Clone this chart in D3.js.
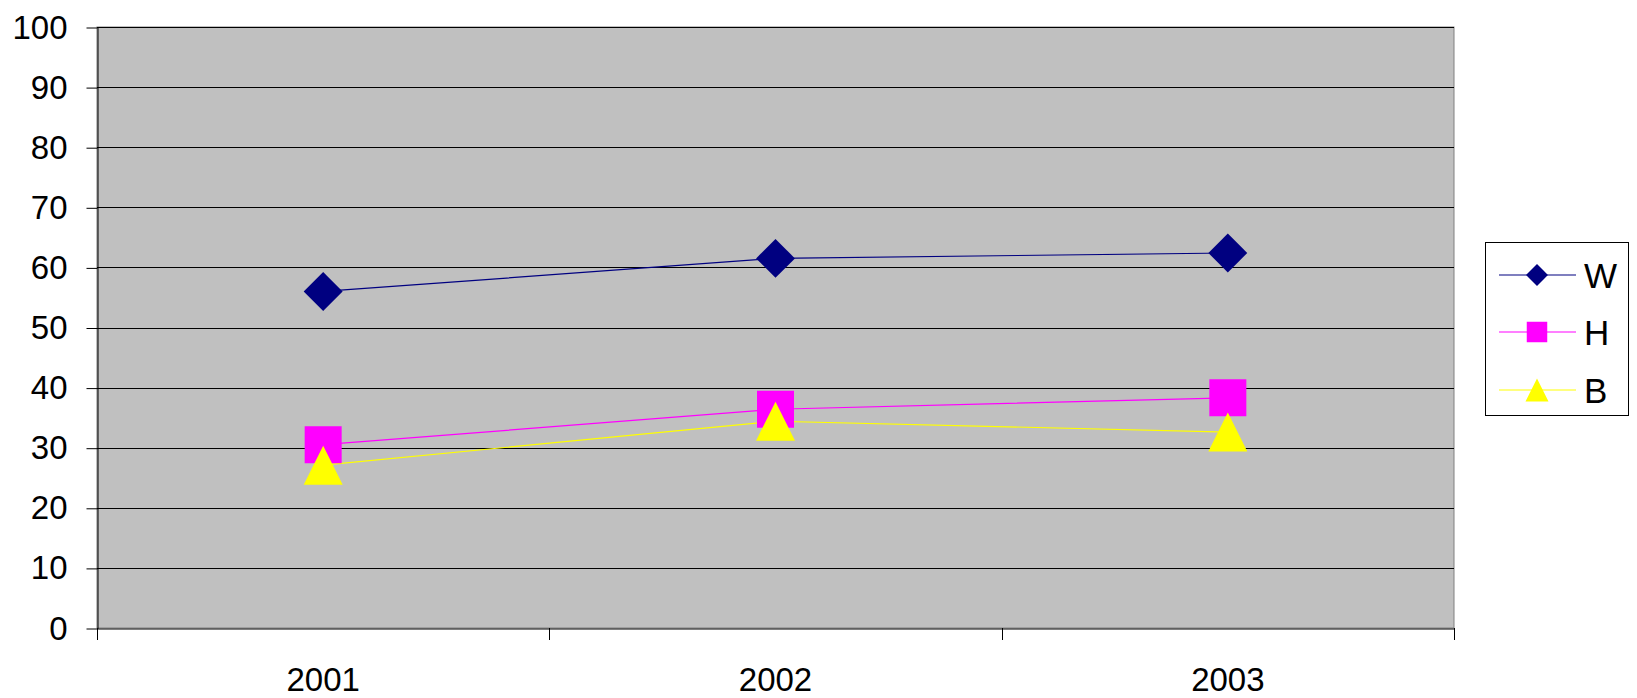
<!DOCTYPE html>
<html><head><meta charset="utf-8">
<script src="https://cdn.jsdelivr.net/npm/d3@7"></script>
<style>body{margin:0;background:#fff;} svg{display:block;font-family:Arial,"Liberation Sans",sans-serif;}</style>
</head><body>
<svg id="c" width="1637" height="698"></svg>
<script>
const categories = ["2001","2002","2003"];
const seriesNames = ["W","H","B"];
const valuesW = [56.0, 61.5, 62.4];
const valuesH = [30.5, 36.4, 38.3];
const valuesB = [27.1, 34.4, 32.6];
const yTicks = [0,10,20,30,40,50,60,70,80,90,100];
const colors = ["#000080","#FF00FF","#FFFF00"];
const symbols = [d3.symbolDiamond, d3.symbolSquare, d3.symbolTriangle];

const series = [
  {name: seriesNames[0], values: valuesW, color: colors[0], sym: "diamond"},
  {name: seriesNames[1], values: valuesH, color: colors[1], sym: "square"},
  {name: seriesNames[2], values: valuesB, color: colors[2], sym: "triangle"}
];

const svg = d3.select("#c");
const L = 97, R = 1454, T = 27, B = 628;
const x = d3.scaleBand().domain(categories).range([L, R]).padding(0);
const y = d3.scaleLinear().domain([0,100]).range([B, T]);

// plot background
svg.append("rect").attr("x", L).attr("y", T).attr("width", R-L).attr("height", B-T)
  .attr("fill", "#C0C0C0").attr("stroke", "#808080").attr("stroke-width", 1);

// gridlines
svg.append("g").selectAll("line").data(yTicks.filter(d => d > 0)).join("line")
  .attr("x1", L).attr("x2", R).attr("y1", d => Math.round(y(d)) + 0.5).attr("y2", d => Math.round(y(d)) + 0.5)
  .attr("stroke", "#000").attr("stroke-width", 1);

// y axis
const yAxis = d3.axisLeft(y).tickValues(yTicks).tickSize(11).tickPadding(19).tickSizeOuter(0);
const gy = svg.append("g").attr("transform", `translate(${L+0.5},0.5)`).call(yAxis);
gy.select(".domain").attr("stroke", "#000");
gy.selectAll(".tick line").attr("stroke", "#000");
gy.selectAll("text").attr("font-size", 33).attr("font-family", "Arial, 'Liberation Sans', sans-serif").attr("fill", "#000");

// x axis
const xAxis = d3.axisBottom(x).tickSize(0).tickPadding(0).tickSizeOuter(0);
const gx = svg.append("g").attr("transform", `translate(0,${B+0.5})`).call(xAxis);
gx.select(".domain").attr("stroke", "#000");
gx.selectAll("text").attr("font-size", 33).attr("font-family", "Arial, 'Liberation Sans', sans-serif").attr("fill", "#000").attr("dy", null).attr("y", 62);
// x tick marks at band boundaries
const bounds = categories.map(c => x(c)).concat([x(categories[categories.length-1]) + x.bandwidth()]);
svg.append("g").selectAll("line").data(bounds).join("line")
  .attr("x1", d => Math.round(d)+0.5).attr("x2", d => Math.round(d)+0.5).attr("y1", B).attr("y2", B+12)
  .attr("stroke", "#000").attr("stroke-width", 1);

function marker(g, sym, size, color) {
  if (sym === "diamond") {
    g.append("path").attr("d", d3.symbol(d3.symbolSquare, size*size)()).attr("transform", "rotate(45)")
      .attr("fill", color).attr("stroke", "none");
  } else if (sym === "square") {
    g.append("path").attr("d", d3.symbol(d3.symbolSquare, size*size)()).attr("fill", color).attr("stroke", "none");
  } else {
    const h = size;
    g.append("path").attr("d", `M0,${-h/2}L${h/2},${h/2}L${-h/2},${h/2}Z`).attr("fill", color);
  }
}

const line = d3.line().x((d,i) => x(categories[i]) + x.bandwidth()/2).y(d => y(d));
const sizes = {diamond: 27.5, square: 37, triangle: 39};
series.forEach(s => {
  svg.append("path").datum(s.values).attr("d", line).attr("fill", "none").attr("stroke", s.color).attr("stroke-width", 1.2);
});
series.forEach(s => {
  s.values.forEach((v, i) => {
    const g = svg.append("g").attr("transform", `translate(${x(categories[i]) + x.bandwidth()/2},${y(v)})`);
    marker(g, s.sym, sizes[s.sym], s.color);
  });
});

// legend
const lg = svg.append("g");
lg.append("rect").attr("x", 1485.5).attr("y", 242.5).attr("width", 143).attr("height", 173)
  .attr("fill", "#fff").attr("stroke", "#000").attr("stroke-width", 1);
const legY = [275, 332, 390];
const legSizes = {diamond: 15.5, square: 20.5, triangle: 23};
series.forEach((s, i) => {
  lg.append("line").attr("x1", 1499).attr("x2", 1576).attr("y1", legY[i]).attr("y2", legY[i]).attr("stroke", s.color).attr("stroke-width", 1.2);
  const g = lg.append("g").attr("transform", `translate(1537,${legY[i]})`);
  marker(g, s.sym, legSizes[s.sym], s.color);
  lg.append("text").attr("x", 1584).attr("y", legY[i]).attr("dy", "0.36em").attr("font-size", 35)
    .attr("fill", "#000").text(s.name);
});
</script>
</body></html>
